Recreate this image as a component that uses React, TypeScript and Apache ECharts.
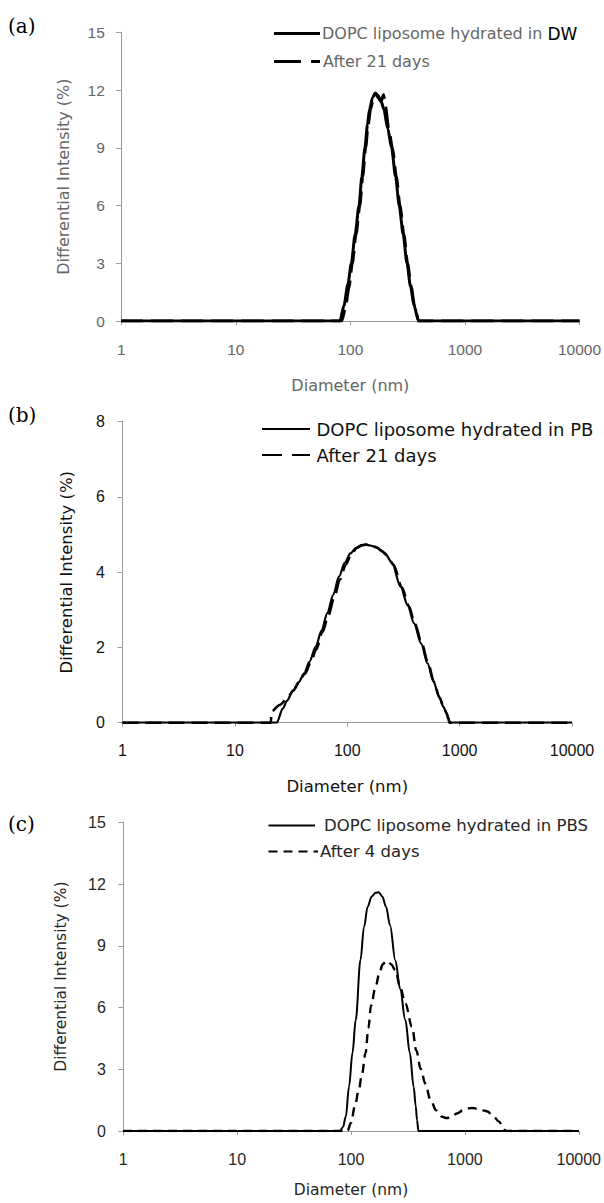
import React, { useEffect, useRef } from "react";
import * as echarts from "echarts";

// ---------- tick labels ----------
const xTicks = [1, 10, 100, 1000, 10000];
const yTicksA = [0, 3, 6, 9, 12, 15];
const yTicksB = [0, 2, 4, 6, 8];
const yTicksC = [0, 3, 6, 9, 12, 15];

// ---------- titles / legends ----------
const xTitle = "Diameter (nm)";
const yTitle = "Differential Intensity (%)";
const panelLabels = ["(a)", "(b)", "(c)"];
const legendA = ["DOPC liposome hydrated in ", "DW", "After 21 days"];
const legendB = ["DOPC liposome hydrated in PB", "After 21 days"];
const legendC = ["DOPC liposome hydrated in PBS", "After 4 days"];

// ---------- data: (a) DW ----------
const aSolidD = [1, 81, 88, 95, 102, 110, 119, 126, 134, 141, 147, 156, 165, 175, 186, 196, 212, 229, 248, 267, 289, 312, 335, 360, 393, 10000];
const aSolidI = [0, 0, 0.8, 1.9, 3, 4.5, 6, 7.5, 9, 10.2, 11, 11.6, 11.85, 11.7, 11.4, 11, 10, 9, 7.5, 6, 4.5, 3, 1.8, 0.8, 0, 0];
const aDashD = [1, 84, 90, 97, 104, 112, 121, 128, 136, 143, 150, 158, 166, 175, 185, 195, 202, 216, 233, 252, 271, 293, 316, 339, 363, 395, 10000];
const aDashI = [0, 0, 0.6, 1.7, 3, 4.5, 6, 7.5, 9, 10.2, 11, 11.5, 11.8, 11.6, 11.4, 11.75, 11.2, 10, 9, 7.5, 6, 4.5, 3, 1.8, 0.8, 0, 0];

// ---------- data: (b) PB ----------
const bSolidD = [1, 23.5, 26.8, 29, 33, 37, 41.4, 46, 52.5, 59, 66.5, 75, 84.4, 95, 106.7, 120, 135, 147, 160, 180, 200, 217, 250, 298, 345, 393, 455, 518, 585, 656, 720, 760, 790, 818, 10000];
const bSolidI = [0, 0, 0.38, 0.58, 0.85, 1.08, 1.31, 1.62, 2.02, 2.45, 2.91, 3.4, 3.88, 4.25, 4.5, 4.65, 4.72, 4.73, 4.71, 4.67, 4.58, 4.5, 4.25, 3.62, 3.12, 2.64, 2.1, 1.58, 1.1, 0.69, 0.42, 0.27, 0.15, 0, 0];
const bDashD = [1, 20.9, 21.2, 25, 29, 33, 37, 42, 47, 53, 60, 68, 76, 86, 97, 109, 122, 137, 150, 165, 185, 205, 225, 258, 306, 353, 401, 463, 526, 592, 662, 725, 765, 795, 810, 10000];
const bDashI = [0, 0, 0.3, 0.47, 0.63, 0.85, 1.05, 1.3, 1.58, 1.95, 2.4, 2.85, 3.3, 3.8, 4.2, 4.48, 4.65, 4.72, 4.74, 4.71, 4.65, 4.55, 4.45, 4.2, 3.6, 3.1, 2.62, 2.08, 1.56, 1.08, 0.67, 0.4, 0.25, 0.1, 0, 0];

// ---------- data: (c) PBS ----------
const cSolidD = [1, 80, 85, 90, 96, 103, 110, 121, 130, 140, 152, 165, 175, 188, 203, 220, 245, 270, 300, 328, 355, 370, 380, 391, 10000];
const cSolidI = [0, 0, 0.2, 0.7, 2.15, 3.8, 5.4, 8.3, 9.9, 10.9, 11.4, 11.58, 11.6, 11.4, 10.9, 10, 8.3, 6.9, 5.39, 3.8, 2.15, 1.2, 0.53, 0, 0];
const cDashD = [1, 93, 100, 108, 117, 125, 134, 142, 150, 164, 178, 190, 201, 212, 225, 245, 270, 300, 343, 375, 410, 449, 500, 560, 627, 690, 760, 850, 960, 1080, 1160, 1300, 1450, 1580, 1780, 2000, 2150, 2290, 10000];
const cDashI = [0, 0, 0.4, 1.2, 2.0, 2.8, 3.78, 5.0, 6.1, 7.0, 7.7, 8.1, 8.23, 8.25, 8.1, 7.82, 7.0, 6.2, 5.07, 3.9, 3.0, 2.3, 1.5, 1.0, 0.7, 0.63, 0.68, 0.85, 1.0, 1.1, 1.12, 1.08, 1.0, 0.95, 0.7, 0.45, 0.2, 0, 0];

const zip = (xs: number[], ys: number[]) => xs.map((x, i) => [x, ys[i]]);

const SANS = "'DejaVu Sans', sans-serif";
const TICK = "'Liberation Sans', Arial, sans-serif";
const SERIF = "'DejaVu Serif', serif";
const AXIS = "#9a9a9a";

export default function App() {
  const ref = useRef<HTMLDivElement>(null);
  useEffect(() => {
    document.body.style.margin = "0";
    const chart = echarts.init(ref.current!, null, { renderer: "svg" });

    const grids = [
      { left: 121.3, top: 32.3, width: 460.4, height: 288.7 },
      { left: 122.5, top: 421.7, width: 449.5, height: 301 },
      { left: 123.3, top: 822.3, width: 457.6, height: 308.7 },
    ];
    const txtColor = ["#666666", "#111111", "#262626"];
    const tickFont = [15.5, 16, 16];
    const titleFont = [16, 16.5, 15.5];
    const xNameGap = [56, 55, 51];
    const yNameGap = [50, 47.5, 54];
    const yLabelMargin = [16.5, 17.5, 17.5];
    const yTicks = [yTicksA, yTicksB, yTicksC];

    const xAxis = grids.map((_, i) => ({
      type: "log",
      logBase: 10,
      gridIndex: i,
      min: xTicks[0],
      max: xTicks[xTicks.length - 1],
      name: xTitle,
      nameLocation: "middle",
      nameGap: xNameGap[i],
      nameTextStyle: { fontFamily: SANS, fontSize: titleFont[i], color: txtColor[i] },
      axisLine: { show: true, onZero: false, lineStyle: { color: AXIS, width: 1 } },
      axisTick: { show: true, length: 4, lineStyle: { color: AXIS } },
      splitLine: { show: false },
      minorTick: { show: false },
      axisLabel: {
        margin: 20,
        fontFamily: TICK,
        fontSize: tickFont[i],
        color: txtColor[i],
        formatter: (v: number) => String(Math.round(v)),
      },
    }));

    const yAxis = grids.map((_, i) => {
      const t = yTicks[i];
      return {
        type: "value",
        gridIndex: i,
        min: t[0],
        max: t[t.length - 1],
        interval: t[1] - t[0],
        name: yTitle,
        nameLocation: "middle",
        nameRotate: 90,
        nameGap: yNameGap[i],
        nameTextStyle: { fontFamily: SANS, fontSize: titleFont[i], color: txtColor[i] },
        axisLine: { show: true, lineStyle: { color: AXIS, width: 1 } },
        axisTick: { show: true, length: 5, lineStyle: { color: AXIS } },
        splitLine: { show: false },
        axisLabel: {
          margin: yLabelMargin[i],
          fontFamily: TICK,
          fontSize: tickFont[i],
          color: txtColor[i],
        },
      };
    });

    const line = (name: string, idx: number, data: number[][], width: number, dash: any, smooth: number, z: number) => ({
      type: "line",
      name,
      xAxisIndex: idx,
      yAxisIndex: idx,
      data,
      showSymbol: false,
      symbol: "none",
      smooth,
      smoothMonotone: "x",
      z,
      lineStyle: { color: "#000", width, type: dash, cap: "butt", join: "round" },
    });

    const series = [
      line("DOPC liposome hydrated in DW", 0, zip(aSolidD, aSolidI), 3, "solid", 0.25, 3),
      line("After 21 days (DW)", 0, zip(aDashD, aDashI), 3, [22, 8], 0.25, 2),
      line("DOPC liposome hydrated in PB", 1, zip(bSolidD, bSolidI), 2.2, "solid", 0.3, 3),
      line("After 21 days (PB)", 1, zip(bDashD, bDashI), 2.6, [16, 7], 0.3, 2),
      line("DOPC liposome hydrated in PBS", 2, zip(cSolidD, cSolidI), 2, "solid", 0.35, 3),
      line("After 4 days", 2, zip(cDashD, cDashI), 2.4, [9, 6], 0.35, 2),
    ];

    const seg = (x1: number, x2: number, y: number, w: number, dash?: number[]) => ({
      type: "line",
      shape: { x1, y1: y, x2, y2: y },
      style: { stroke: "#000", lineWidth: w, lineDash: dash || null, lineCap: "butt" },
    });
    const txt = (x: number, y: number, text: string, size: number, color: string, family = SANS) => ({
      type: "text",
      x,
      y,
      style: { text, fontSize: size, fontFamily: family, fill: color, verticalAlign: "middle", align: "left" },
    });

    const graphic = [
      // panel labels
      txt(8, 26, panelLabels[0], 20, "#000", SERIF),
      txt(8, 415, panelLabels[1], 20, "#000", SERIF),
      txt(8, 823.5, panelLabels[2], 20, "#000", SERIF),
      // legend (a)
      seg(274, 320, 33.5, 3),
      {
        type: "text",
        x: 322,
        y: 33.5,
        style: {
          text: "{a|" + legendA[0] + "}{b|" + legendA[1] + "}",
          verticalAlign: "middle",
          align: "left",
          rich: {
            a: { fontSize: 16, fontFamily: SANS, fill: txtColor[0], color: txtColor[0] },
            b: { fontSize: 17, fontFamily: SANS, fill: "#000", color: "#000" },
          },
        },
      },
      seg(274, 320, 61.5, 3, [27, 10]),
      txt(323, 61.5, legendA[2], 16, txtColor[0]),
      // legend (b)
      seg(262, 310, 429, 2),
      txt(316.5, 429, legendB[0], 18, txtColor[1]),
      seg(262, 310, 455, 2.2, [20, 10]),
      txt(316.5, 455, legendB[1], 18, txtColor[1]),
      // legend (c)
      seg(268.5, 315, 825.5, 2),
      txt(324, 825.5, legendC[0], 16.5, txtColor[2]),
      seg(268.5, 318, 851.5, 2.2, [9, 6]),
      txt(320, 851.5, legendC[1], 16.5, txtColor[2]),
    ];

    chart.setOption({
      animation: false,
      backgroundColor: "#fff",
      grid: grids.map((g) => ({ ...g, containLabel: false })),
      xAxis,
      yAxis,
      series,
      graphic,
    });
    return () => chart.dispose();
  }, []);

  return (
    <div
      ref={ref}
      style={{ position: "absolute", left: 0, top: 0, width: 604, height: 1203, background: "#fff" }}
    />
  );
}
